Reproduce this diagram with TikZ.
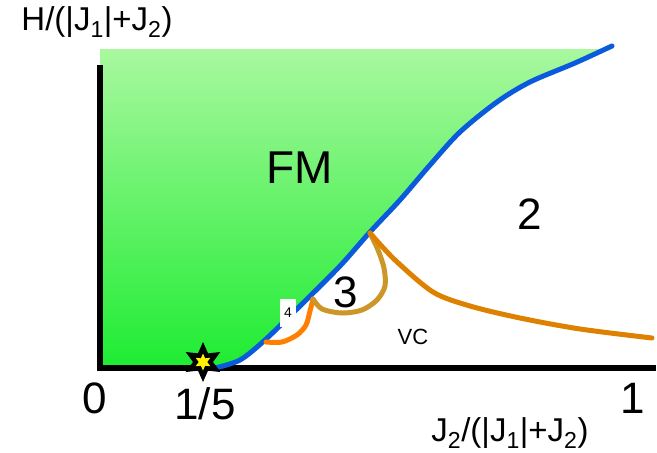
\documentclass[tikz,border=0pt]{standalone}
\usepackage{fontspec}
\setmainfont{Liberation Sans}
\usetikzlibrary{shapes.geometric}
\definecolor{fmtop}{RGB}{170,248,160}
\definecolor{fmbot}{RGB}{30,236,50}
\definecolor{bline}{RGB}{10,90,220}
\definecolor{oline}{RGB}{255,128,0}
\definecolor{vcline}{RGB}{222,128,0}
\definecolor{gline}{RGB}{204,150,40}
\tikzset{
  lbl/.style={inner sep=0pt, font=\fontsize{#1}{#1}\selectfont},
  axis/.style={line width=6pt},
  bound/.style={line width=5pt, line cap=round, line join=round},
}
\begin{document}
\begin{tikzpicture}[x=1pt,y=-1pt]
\useasboundingbox (0,0) rectangle (657,453);
% FM region
\shade[top color=fmtop, bottom color=fmbot]
  (100,49) -- (606,49)
  -- plot[smooth, tension=0.5] coordinates {(612,46) (575,63) (530,82) (497,102) (460,132) (430,165) (400,200) (370,232) (340,266) (300,306) (265,340) (240,360) (215,368)}
  -- (100,368) -- cycle;
% axes
\draw[axis] (100,65) -- (100,371);
\draw[axis] (97,368) -- (656,368);
% blue boundary
\draw[bound, bline] plot[smooth, tension=0.5] coordinates {(612,46) (575,63) (530,82) (497,102) (460,132) (430,165) (400,200) (370,232) (340,266) (300,306) (265,340) (240,360) (215,368)};
% phase 4 boundary
\draw[bound, oline] plot[smooth, tension=0.5] coordinates {(266,342) (282,342) (297,335) (306,325) (310,311) (313,299)};
% phase 3 boundary
\draw[bound, gline] plot[smooth, tension=0.5] coordinates {(313,299) (322,309) (342,313) (362,310) (377,300) (385,286) (384,268) (378,250) (370,233)};
% VC boundary
\draw[bound, vcline] plot[smooth, tension=0.5] coordinates {(370,233) (395,260) (433,292) (470,306) (520,318) (580,329) (652,338)};
% star
\node[star, star points=6, star point ratio=2, fill=black, minimum size=40pt, inner sep=0pt] (st) at (203,362) {};
\node[star, star points=6, star point ratio=2, fill=yellow, minimum size=17pt, inner sep=0pt] (sty) at (203,362) {};
% labels
\node[lbl=33] (ylab) at (97,22) {H/(|J\textsubscript{1}|+J\textsubscript{2})};
\node[lbl=33] (xlab) at (510,433) {J\textsubscript{2}/(|J\textsubscript{1}|+J\textsubscript{2})};
\node[lbl=46] (fm) at (300,168) {FM};
\node[lbl=44] (two) at (530,214) {2};
\node[lbl=44] (three) at (346,292) {3};
\node[lbl=22] (vc) at (413,337) {VC};
\node[fill=white, inner sep=2pt, minimum width=16pt, minimum height=28pt, font=\fontsize{14}{14}\selectfont] (four) at (288,313) {\raisebox{-8pt}{4}};
\node[lbl=44] (zero) at (95,398) {0};
\node[lbl=44] (fifth) at (205,404) {1/5};
\node[lbl=44] (one) at (633,398) {1};
\end{tikzpicture}
\end{document}
